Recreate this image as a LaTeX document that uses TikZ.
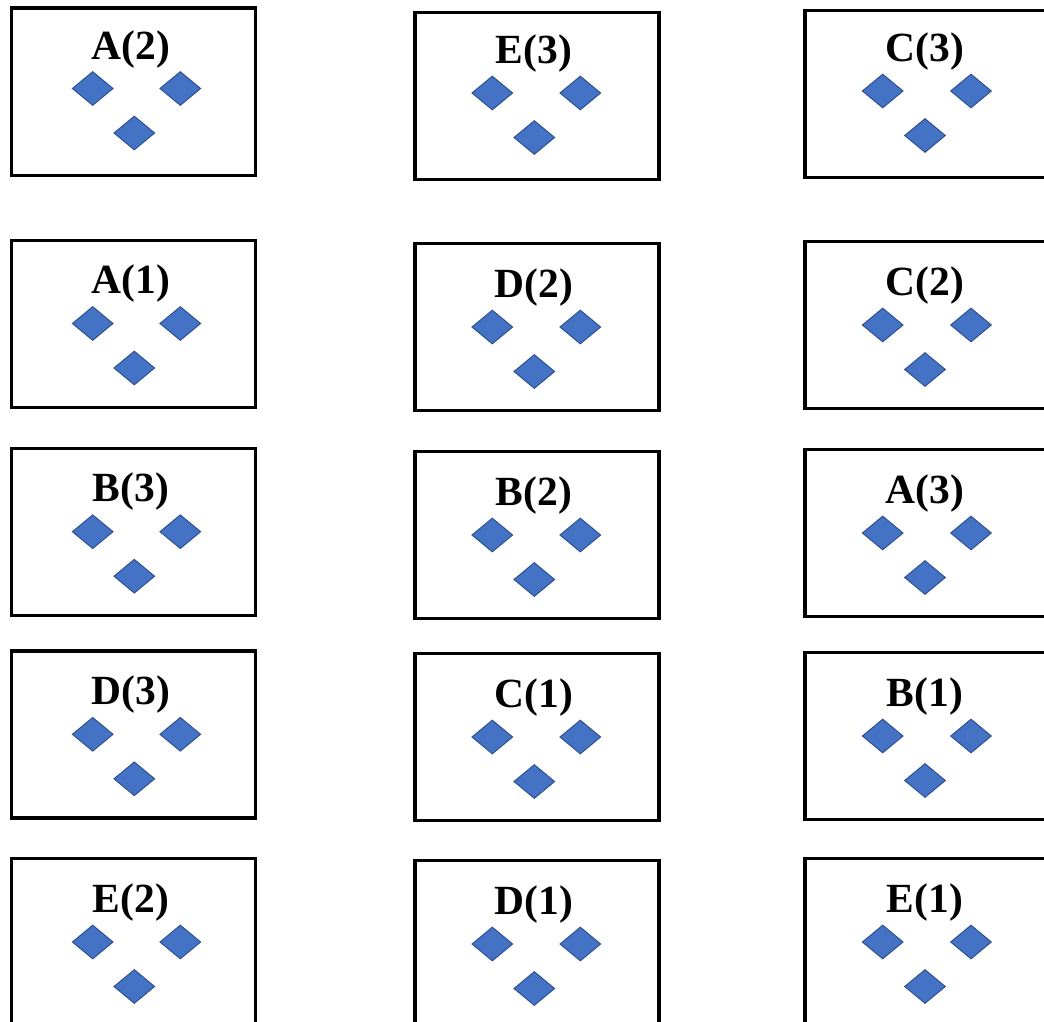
\documentclass[tikz,border=0pt]{standalone}
\usepackage{fontspec}
\setmainfont{Liberation Serif}
\usetikzlibrary{shapes.geometric}
\definecolor{dfill}{HTML}{4472C4}
\definecolor{dline}{HTML}{2F528F}
\begin{document}
\begin{tikzpicture}[x=1pt,y=-1pt,
  card/.style={draw=black,line width=3.2pt,rectangle,minimum width=244pt,minimum height=167pt,anchor=north west,inner sep=0pt},
  gem/.style={diamond,fill=dfill,draw=dline,line width=1pt,minimum width=41pt,minimum height=34pt,inner sep=0pt},
  lbl/.style={anchor=base,font=\fontsize{41.5}{48}\selectfont\bfseries,inner sep=0pt}]
\useasboundingbox (0,0) rectangle (1044,1022);
\clip (0,0) rectangle (1044,1022);
\foreach \tx/\c/\r/\by in {
  A(2)/1/1/6.5, A(1)/1/2/238.5, B(3)/1/3/446.7, D(3)/1/4/649.3, E(2)/1/5/857,
  E(3)/2/1/11, D(2)/2/2/242, B(2)/2/3/450, C(1)/2/4/652, D(1)/2/5/859,
  C(3)/3/1/9, C(2)/3/2/240, A(3)/3/3/448, B(1)/3/4/651, E(1)/3/5/857}{
  \pgfmathsetmacro\bx{{9.5,413.3,803.3}[\c-1]}
  \pgfmathsetmacro\cx{{131,534,925}[\c-1]}
  \pgfmathsetmacro\dl{{92.7,492.3,882.7}[\c-1]}
  \pgfmathsetmacro\dr{{180.3,580.3,971}[\c-1]}
  \pgfmathsetmacro\db{{134.3,534.3,925}[\c-1]}
  \pgfmathsetmacro\du{\r==1?82:85}
  \pgfmathsetmacro\dd{\r==1?126.5:129.5}
  \pgfmathsetmacro\dt{\r==1?53:55}
  \node[card] (box\c\r) at (\bx,\by) {};
  \node[lbl] (lab\c\r) at (\cx,\by+\dt) {\tx};
  \node[gem] (gl\c\r) at (\dl,\by+\du) {};
  \node[gem] (gr\c\r) at (\dr,\by+\du) {};
  \node[gem] (gb\c\r) at (\db,\by+\dd) {};
}
\end{tikzpicture}
\end{document}
